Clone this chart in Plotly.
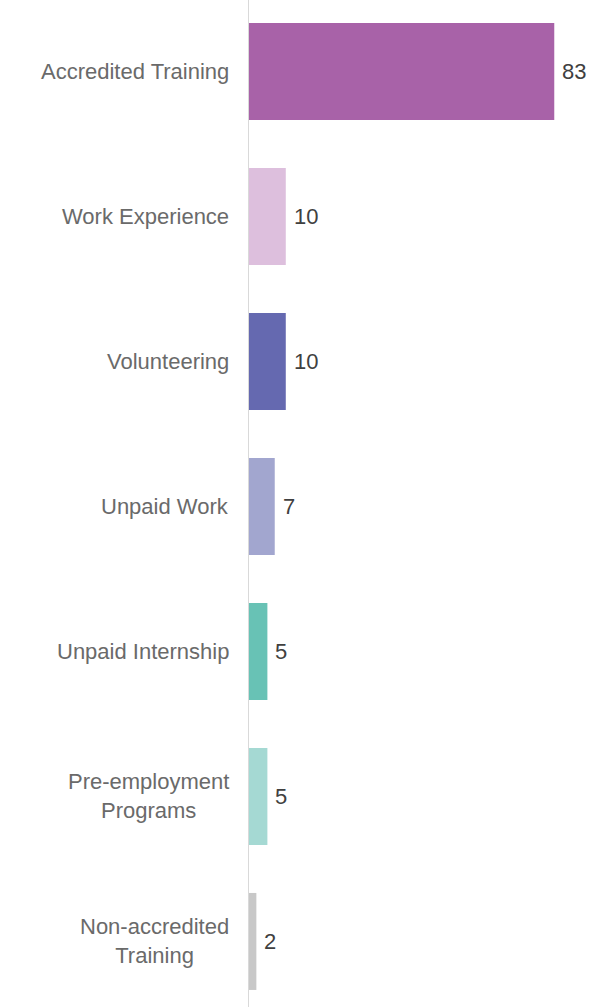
import plotly.graph_objects as go

categories = ["Accredited Training", "Work Experience", "Volunteering", "Unpaid Work",
              "Unpaid Internship", "Pre-employment<br>Programs", "Non-accredited<br>Training"]
values = [83, 10, 10, 7, 5, 5, 2]
colors = ["#A862A8", "#DDBFDD", "#6569B0", "#A2A6CF", "#68C2B5", "#A5D9D3", "#C8C8C8"]

FONT = "Liberation Sans"
FS = 22

fig = go.Figure()
fig.add_trace(go.Bar(
    x=values, y=list(range(len(categories))), orientation="h",
    marker=dict(color=colors, line=dict(width=0)),
    width=0.669, hoverinfo="skip",
))

for i, (c, v) in enumerate(zip(categories, values)):
    fig.add_annotation(x=0, xref="paper", y=i, yref="y", text=c, showarrow=False,
                       xanchor="right", yanchor="middle", align="center", xshift=-18,
                       font=dict(family=FONT, size=FS, color="#6A6A6A"))
    fig.add_annotation(x=v, xref="x", y=i, yref="y", text=str(v), showarrow=False,
                       xanchor="left", yanchor="middle", xshift=6,
                       font=dict(family=FONT, size=FS, color="#404040"))

fig.update_layout(
    width=603, height=1007,
    margin=dict(l=249, r=23, t=0, b=0),
    plot_bgcolor="white", paper_bgcolor="white",
    showlegend=False,
    font=dict(family=FONT),
    xaxis=dict(range=[0, 90], showgrid=False, zeroline=False, showticklabels=False,
               showline=False, fixedrange=True),
    yaxis=dict(range=[6.452, -0.493], showgrid=False, zeroline=False, showticklabels=False,
               showline=True, linecolor="#D9D9D9", linewidth=1, fixedrange=True),
)

fig.write_html("out.html")
